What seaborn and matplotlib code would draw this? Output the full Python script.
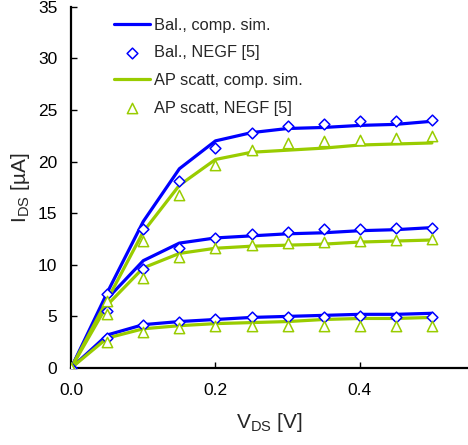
import numpy as np
import pandas as pd
import matplotlib
matplotlib.use('Agg')
import matplotlib.pyplot as plt
import seaborn as sns

# drain voltage points
vds = [0.0, 0.05, 0.1, 0.15, 0.2, 0.25, 0.3, 0.35, 0.4, 0.45, 0.5]

# ballistic, compact simulation (three gate voltages)
bal_sim_hi = [0.0, 7.3, 14.2, 19.3, 22.0, 22.8, 23.2, 23.3, 23.5, 23.6, 23.9]
bal_sim_mid = [0.0, 6.7, 10.4, 12.1, 12.6, 12.8, 13.0, 13.1, 13.3, 13.4, 13.6]
bal_sim_lo = [0.0, 3.2, 4.2, 4.5, 4.7, 4.9, 5.0, 5.1, 5.2, 5.2, 5.3]

# ballistic, NEGF
bal_negf_hi = [0.0, 7.2, 13.5, 18.1, 21.3, 22.8, 23.4, 23.6, 23.9, 23.9, 24.0]
bal_negf_mid = [0.0, 5.5, 9.6, 11.6, 12.6, 13.0, 13.2, 13.5, 13.5, 13.6, 13.6]
bal_negf_lo = [0.0, 2.9, 4.2, 4.5, 4.7, 4.9, 4.9, 4.9, 5.0, 4.9, 4.9]

# AP scattering, compact simulation
ap_sim_hi = [0.0, 6.6, 13.2, 17.7, 20.2, 20.9, 21.1, 21.3, 21.6, 21.7, 21.8]
ap_sim_mid = [0.0, 6.1, 9.7, 11.1, 11.6, 11.8, 11.9, 12.0, 12.2, 12.3, 12.4]
ap_sim_lo = [0.0, 2.9, 3.8, 4.1, 4.3, 4.4, 4.5, 4.7, 4.8, 4.8, 4.9]

# AP scattering, NEGF
ap_negf_hi = [0.0, 6.5, 12.3, 16.8, 19.7, 21.1, 21.8, 22.0, 22.1, 22.3, 22.5]
ap_negf_mid = [0.0, 5.2, 8.7, 10.8, 11.6, 11.9, 12.1, 12.2, 12.3, 12.4, 12.5]
ap_negf_lo = [0.0, 2.5, 3.5, 3.9, 4.1, 4.1, 4.1, 4.1, 4.1, 4.1, 4.1]

blue = '#0000ff'
green = '#99cc00'

sns.set_style('ticks')
plt.rcParams['font.family'] = ['Liberation Sans', 'DejaVu Sans']
plt.rcParams['mathtext.fontset'] = 'custom'
plt.rcParams['mathtext.rm'] = 'Liberation Sans'

fig = plt.figure(figsize=(4.68, 4.45), dpi=100)
ax = fig.add_axes([0.152, 0.173, 0.848, 0.812])


def draw_lines(curves, color, label):
    for i, ys in enumerate(curves):
        df = pd.DataFrame({'x': vds, 'y': ys})
        sns.lineplot(data=df, x='x', y='y', ax=ax, color=color, lw=2.3,
                     label=label if i == 0 else None, legend=False)


def draw_points(curves, color, marker, size, label):
    for i, ys in enumerate(curves):
        df = pd.DataFrame({'x': vds, 'y': ys})
        sns.scatterplot(data=df, x='x', y='y', ax=ax, marker=marker, s=size,
                        facecolor='white', edgecolor=color, linewidth=1.1,
                        label=label if i == 0 else None, legend=False, zorder=3)


draw_lines([bal_sim_hi, bal_sim_mid, bal_sim_lo], blue, 'Bal., comp. sim.')
draw_points([bal_negf_hi, bal_negf_mid, bal_negf_lo], blue, 'D', 30, 'Bal., NEGF [5]')
draw_lines([ap_sim_hi, ap_sim_mid, ap_sim_lo], green, 'AP scatt, comp. sim.')
draw_points([ap_negf_hi, ap_negf_mid, ap_negf_lo], green, '^', 55, 'AP scatt, NEGF [5]')

ax.set_xlim(0, 0.55)
ax.set_ylim(0, 35)
ax.set_xticks([0.0, 0.2, 0.4])
ax.set_xticklabels(['0.0', '0.2', '0.4'])
ax.set_yticks(range(0, 36, 5))
ax.tick_params(direction='in', length=4, width=1, labelsize=12.5, colors='black')
ax.tick_params(axis='x', pad=11)
ax.tick_params(axis='y', pad=10)
for side in ['left', 'bottom']:
    ax.spines[side].set_linewidth(1.6)
    ax.spines[side].set_color('black')
sns.despine(ax=ax)

ax.set_xlabel(r'V$_{\rm DS}$ [V]', fontsize=15, labelpad=9)
ax.set_ylabel(r'I$_{\rm DS}$ [µA]', fontsize=15, labelpad=4)

handles, labels = ax.get_legend_handles_labels()
ax.legend(handles, labels, loc='upper left', bbox_to_anchor=(0.07, 1.01),
          frameon=False, fontsize=11.8, handlelength=2.2, handletextpad=0.25,
          labelspacing=0.77, scatterpoints=1)

fig.savefig('out.png', dpi=100)
